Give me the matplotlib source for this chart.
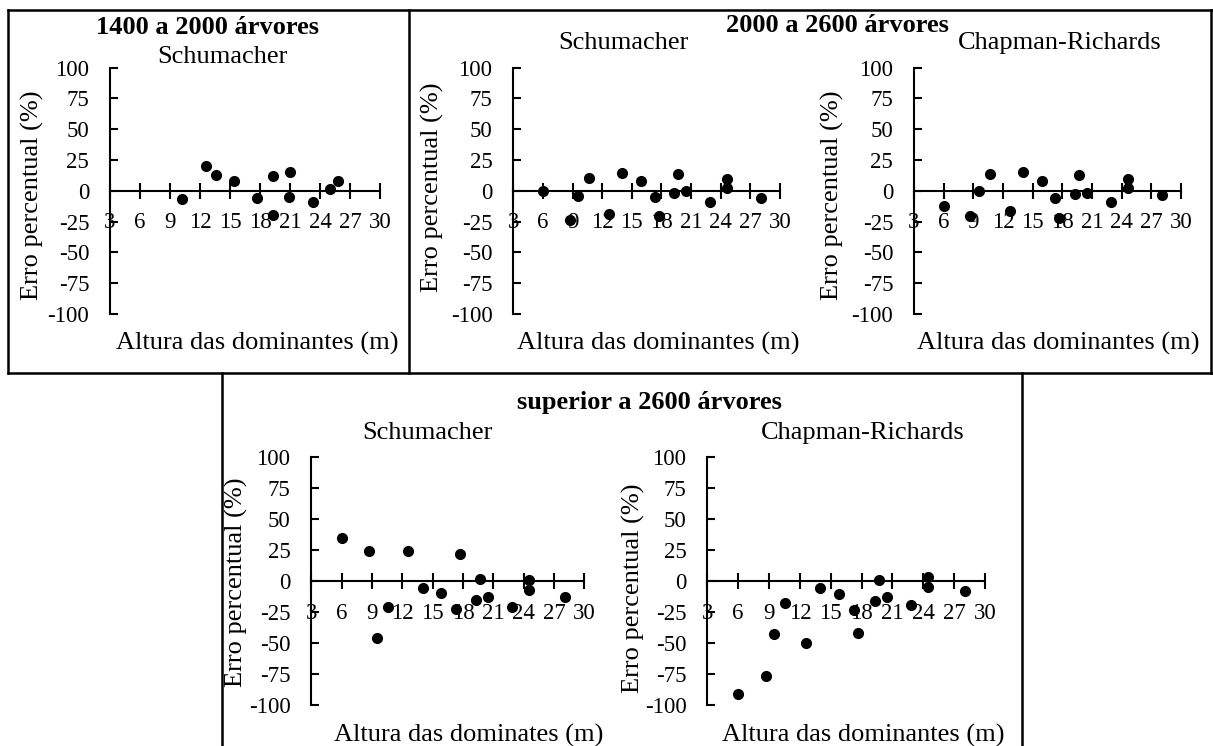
import matplotlib
matplotlib.use("Agg")
import matplotlib.pyplot as plt
from matplotlib.lines import Line2D

plt.rcParams["font.family"] = ["Liberation Serif", "DejaVu Serif"]
plt.rcParams["axes.unicode_minus"] = False

# 1400 a 2000 arvores - Schumacher
altura_1400 = [10.2, 12.6, 13.6, 15.4, 17.7, 19.3, 19.3, 21.0, 20.9, 23.3, 25.0, 25.8]
erro_1400_schu = [-7.0, 20.3, 12.8, 7.9, -5.4, 12.2, -19.8, 15.5, -5.1, -8.9, 1.6, 8.1]

# 2000 a 2600 arvores
altura_2000 = [6.0, 8.7, 9.6, 10.7, 12.7, 14.0, 15.9, 17.3, 17.7, 19.3, 19.7, 20.5, 22.9, 24.6, 24.6, 28.1]
erro_2000_schu = [-0.3, -23.8, -3.8, 10.8, -18.4, 14.6, 8.4, -4.9, -20.5, -1.4, 13.5, -0.3, -8.9, 9.7, 2.7, -5.4]
erro_2000_chap = [-12.7, -20.3, -0.3, 13.8, -16.0, 15.7, 8.1, -5.7, -21.7, -2.2, 12.5, -1.4, -8.9, 9.7, 2.7, -3.0]

# superior a 2600 arvores
altura_2600 = [6.0, 8.7, 9.5, 10.6, 12.6, 14.0, 15.8, 17.3, 17.7, 19.3, 19.7, 20.5, 22.8, 24.5, 24.5, 28.1]
erro_2600_schu = [34.7, 24.5, -46.2, -20.7, 24.5, -5.4, -9.7, -22.8, 21.8, -15.6, 1.6, -12.9, -20.7, 1.1, -7.3, -12.9]
erro_2600_chap = [-91.4, -76.9, -42.5, -18.0, -49.7, -5.4, -10.5, -23.7, -41.9, -16.1, 0.8, -12.6, -19.4, 3.0, -5.1, -8.3]

x_ticks = list(range(3, 31, 3))
y_ticks = list(range(-100, 101, 25))

W, H = 1213, 746
fig = plt.figure(figsize=(W / 100, H / 100), dpi=100)


def fx(px):
    return px / W


def fy(py):
    return 1 - py / H


def panel(x0, x1, y0, y1, x, y):
    ax = fig.add_axes([fx(x0), fy(y1), fx(x1 - x0), (y1 - y0) / H])
    ax.set_facecolor("none")
    ax.plot(x, y, "o", color="black", markersize=7, clip_on=False, zorder=3)
    ax.set_xlim(3, 30)
    ax.set_ylim(-100, 100)
    ax.set_xticks(x_ticks)
    ax.set_yticks(y_ticks)
    ax.spines["top"].set_visible(False)
    ax.spines["right"].set_visible(False)
    ax.spines["bottom"].set_position(("data", 0))
    ax.spines["bottom"].set_linewidth(1.5)
    ax.spines["left"].set_linewidth(1.5)
    ax.tick_params(axis="x", direction="inout", length=12, width=1.5, pad=9.5, labelsize=16.5)
    ax.tick_params(axis="y", direction="in", length=6, width=1.5, pad=15, labelsize=16.5)
    return ax


panel(110, 380, 67.7, 314, altura_1400, erro_1400_schu)
panel(513.3, 780, 67.7, 314, altura_2000, erro_2000_schu)
panel(914, 1181, 67.7, 314, altura_2000, erro_2000_chap)
panel(311.3, 584.3, 457, 705, altura_2600, erro_2600_schu)
panel(707.3, 985, 457, 705, altura_2600, erro_2600_chap)

fs = 19

# titles
fig.text(fx(207), fy(28), "1400 a 2000 árvores", fontsize=fs, fontweight="bold", ha="center", va="center")
fig.text(fx(837), fy(25), "2000 a 2600 árvores", fontsize=fs, fontweight="bold", ha="center", va="center")
fig.text(fx(649), fy(402), "superior a 2600 árvores", fontsize=fs, fontweight="bold", ha="center", va="center")

fig.text(fx(222), fy(57), "Schumacher", fontsize=fs, ha="center", va="center")
fig.text(fx(623), fy(43), "Schumacher", fontsize=fs, ha="center", va="center")
fig.text(fx(1060), fy(43), "Chapman-Richards", fontsize=fs, ha="center", va="center")
fig.text(fx(427), fy(433), "Schumacher", fontsize=fs, ha="center", va="center")
fig.text(fx(863), fy(433), "Chapman-Richards", fontsize=fs, ha="center", va="center")

# y labels
for px, py in [(32, 195), (432, 187), (832, 195), (236, 582), (633, 588)]:
    fig.text(fx(px), fy(py), "Erro percentual (%)", fontsize=fs, rotation=90, ha="center", va="center")

# x labels
fig.text(fx(257), fy(343), "Altura das dominantes (m)", fontsize=fs, ha="center", va="center")
fig.text(fx(658), fy(343), "Altura das dominantes (m)", fontsize=fs, ha="center", va="center")
fig.text(fx(1058), fy(343), "Altura das dominantes (m)", fontsize=fs, ha="center", va="center")
fig.text(fx(469), fy(735), "Altura das dominates (m)", fontsize=fs, ha="center", va="center")
fig.text(fx(863), fy(735), "Altura das dominantes (m)", fontsize=fs, ha="center", va="center")

# box borders
lines = [
    ((8, 1212), (10, 10)),
    ((8, 1212), (373, 373)),
    ((8, 8), (10, 373)),
    ((409, 409), (10, 373)),
    ((1211, 1211), (10, 373)),
    ((222, 222), (373, 746)),
    ((1022, 1022), (373, 746)),
]
for xs, ys in lines:
    fig.add_artist(Line2D([fx(v) for v in xs], [fy(v) for v in ys], color="black", linewidth=1.8))

fig.savefig("out.png", dpi=100)
